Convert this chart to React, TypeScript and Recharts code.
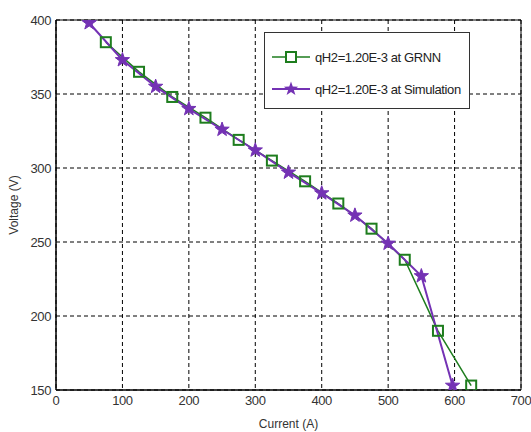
import React from "react";
import {
  LineChart,
  Line,
  XAxis,
  YAxis,
  CartesianGrid,
  Label,
  ReferenceArea,
} from "recharts";

// GRNN prediction (squares)
const grnnCurrent = [75, 125, 175, 225, 275, 325, 375, 425, 475, 525, 575, 625];
const grnnVoltage = [385, 365, 348, 334, 319, 305, 291, 276, 259, 238, 190, 153];

// Simulation (stars)
const simCurrent = [50, 100, 150, 200, 250, 300, 350, 400, 450, 500, 550, 597];
const simVoltage = [398, 373, 355, 340, 326, 312, 297, 283, 268, 249, 227, 153];

const xTicks = [0, 100, 200, 300, 400, 500, 600, 700];
const yTicks = [150, 200, 250, 300, 350, 400];

const grnnLabel = "qH2=1.20E-3 at GRNN";
const simLabel = "qH2=1.20E-3 at Simulation";

const GREEN = "#1e7d1e";
const PURPLE = "#7432b4";
const FONT = "'Liberation Sans', Arial, sans-serif";

const grnnData = grnnCurrent.map((x, i) => ({ x, v: grnnVoltage[i] }));
const simData = simCurrent.map((x, i) => ({ x, v: simVoltage[i] }));

function starPath(cx: number, cy: number, R: number, r: number) {
  const pts: string[] = [];
  for (let i = 0; i < 10; i++) {
    const rad = i % 2 === 0 ? R : r;
    const a = -Math.PI / 2 + (i * Math.PI) / 5;
    pts.push(`${cx + rad * Math.cos(a)},${cy + rad * Math.sin(a)}`);
  }
  return `M${pts.join("L")}Z`;
}

const SquareDot = (props: any) => {
  const { cx, cy, index } = props;
  if (cx == null || cy == null) return <g key={`sq-${index}`} />;
  return (
    <rect
      key={`sq-${index}`}
      x={cx - 5}
      y={cy - 5}
      width={10}
      height={10}
      fill="none"
      stroke={GREEN}
      strokeWidth={2}
    />
  );
};

const StarDot = (props: any) => {
  const { cx, cy, index } = props;
  if (cx == null || cy == null) return <g key={`st-${index}`} />;
  return <path key={`st-${index}`} d={starPath(cx, cy, 7.5, 3)} fill={PURPLE} stroke={PURPLE} />;
};

const LegendBox = () => (
  <div
    style={{
      position: "absolute",
      left: 264,
      top: 32,
      border: "1px solid #333",
      background: "#fff",
      width: 204,
      height: 75,
      fontFamily: FONT,
      fontSize: 13,
      letterSpacing: -0.4,
      color: "#222",
    }}
  >
    {[
      { label: grnnLabel, color: GREEN, top: 24, star: false },
      { label: simLabel, color: PURPLE, top: 56, star: true },
    ].map((row) => (
      <div
        key={row.label}
        style={{ position: "absolute", left: 7, top: row.top - 10, height: 20, display: "flex", alignItems: "center" }}
      >
        <svg width={38} height={20}>
          <line x1={0} y1={10} x2={38} y2={10} stroke={row.color} strokeWidth={row.star ? 2 : 1.5} />
          {row.star ? (
            <path d={starPath(19, 10, 7.5, 3)} fill={row.color} />
          ) : (
            <rect x={14} y={5} width={10} height={10} fill="#fff" stroke={row.color} strokeWidth={2} />
          )}
        </svg>
        <span style={{ marginLeft: 5, whiteSpace: "nowrap" }}>{row.label}</span>
      </div>
    ))}
  </div>
);

export default function App() {
  const tickStyle = { fontSize: 13, fill: "#333", fontFamily: FONT, letterSpacing: -0.4 };
  return (
    <div style={{ position: "absolute", left: 0, top: 0, width: 531, height: 432, background: "#fff" }}>
      <LineChart width={531} height={432} margin={{ top: 20, right: 10, bottom: 0, left: 0 }}>
        <CartesianGrid stroke="#000" strokeDasharray="4 3" strokeWidth={1} />
        <XAxis
          type="number"
          dataKey="x"
          domain={[0, 700]}
          ticks={xTicks}
          allowDataOverflow
          height={42}
          tickLine={false}
          axisLine={{ stroke: "#000" }}
          tick={tickStyle}
          tickSize={4}
        >
          <Label
            value="Current (A)"
            position="insideBottom"
            offset={4}
            style={{ fontSize: 12, fill: "#333", fontFamily: FONT }}
          />
        </XAxis>
        <YAxis
          type="number"
          dataKey="v"
          domain={[150, 400]}
          ticks={yTicks}
          allowDataOverflow
          width={56}
          tickLine={false}
          axisLine={{ stroke: "#000" }}
          tick={tickStyle}
          tickSize={3}
          tickMargin={2}
        >
          <Label
            value="Voltage (V)"
            angle={-90}
            position="insideLeft"
            offset={14}
            style={{ fontSize: 12, fill: "#333", fontFamily: FONT, textAnchor: "middle" }}
          />
        </YAxis>
        <ReferenceArea x1={0} x2={700} y1={150} y2={400} fill="none" stroke="#000" strokeWidth={1} />
        <Line
          data={grnnData}
          dataKey="v"
          name={grnnLabel}
          stroke={GREEN}
          strokeWidth={1.5}
          dot={SquareDot}
          activeDot={false}
          isAnimationActive={false}
        />
        <Line
          data={simData}
          dataKey="v"
          name={simLabel}
          stroke={PURPLE}
          strokeWidth={2}
          dot={StarDot}
          activeDot={false}
          isAnimationActive={false}
        />
      </LineChart>
      <LegendBox />
    </div>
  );
}
